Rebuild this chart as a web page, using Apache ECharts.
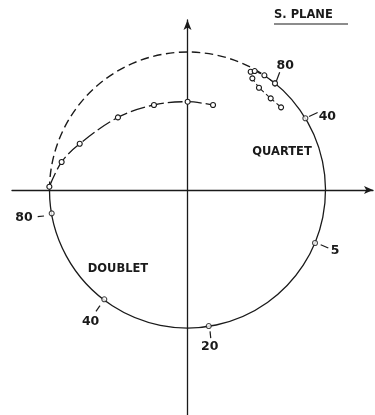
<!DOCTYPE html>
<html>
<head>
<meta charset="utf-8">
<script src="https://cdn.jsdelivr.net/npm/echarts@6/dist/echarts.min.js"></script>
<style>html,body{margin:0;padding:0;background:#fff}#c{width:375px;height:415px}</style>
</head>
<body>
<div id="c"></div>
<script>
// ---- data (unit circle radius = 1) ----
const circleCenter = [0, 0];
const circleRadius = 1;
const dashedFromDeg = 57;   // dashed part of the circle from this angle ...
const dashedToDeg = 180;    // ... to this angle (counter-clockwise)

const innerX = [-1.001, -0.912, -0.781, -0.504, -0.243, 0.001, 0.185];
const innerY = [0.024, 0.203, 0.335, 0.526, 0.616, 0.640, 0.616];

const quartetUpperX = [0.458, 0.487, 0.557, 0.634];
const quartetUpperY = [0.857, 0.862, 0.831, 0.773];

const quartetLowerX = [0.470, 0.518, 0.603, 0.678];
const quartetLowerY = [0.809, 0.741, 0.664, 0.599];

const markedX = [0.634, 0.854, 0.924, 0.154, -0.603, -0.984];
const markedY = [0.773, 0.520, -0.384, -0.986, -0.792, -0.169];
const markedLabels = ['80', '40', '5', '20', '40', '80'];

const regionLabels = ['QUARTET', 'DOUBLET'];
const regionX = [0.685, -0.504];
const regionY = [0.275, -0.572];

const titleText = 'S. PLANE';

// ---- layout / style (pixel offsets of leader lines & labels) ----
const labelLayout = [
  {lead: [1.3, -2, 4.7, -11], text: [10.3, -17.3]},
  {lead: [3.7, -1.7, 12.3, -5.7], text: [22, -1]},
  {lead: [5.7, 1.7, 13.3, 5], text: [20, 7.3]},
  {lead: [1.3, 5.3, 2, 12], text: [1, 21]},
  {lead: [-4.3, 6.3, -8.3, 12], text: [-13.7, 22]},
  {lead: [-7.7, 2.7, -14, 3.3], text: [-27.7, 4.3]}
];
const INK = '#1a1a1a';
const FONT = '"DejaVu Sans", "Liberation Sans", sans-serif';

const zip = (xs, ys) => xs.map((x, i) => [x, ys[i]]);
const hollow = {color: '#fff', borderColor: INK, borderWidth: 1.1};

const chart = echarts.init(document.getElementById('c'), null, {renderer: 'canvas'});
const deg = Math.PI / 180;

chart.setOption({
  animation: false,
  backgroundColor: '#fff',
  grid: {left: 12, right: 2, top: 20, bottom: 0},
  xAxis: {
    type: 'value', min: -1.2717, max: 1.3442,
    axisLine: {onZero: true, symbol: ['none', 'arrow'], symbolSize: [6, 9], lineStyle: {color: INK, width: 1.3}},
    axisTick: {show: false}, axisLabel: {show: false}, splitLine: {show: false}
  },
  yAxis: {
    type: 'value', min: -1.6304, max: 1.2319,
    axisLine: {onZero: true, symbol: ['none', 'arrow'], symbolSize: [6, 10], lineStyle: {color: INK, width: 1.3}},
    axisTick: {show: false}, axisLabel: {show: false}, splitLine: {show: false}
  },
  graphic: [
    {type: 'text', left: 274, top: 9, style: {text: titleText, font: 'bold 11.5px ' + FONT, fill: INK}},
    {type: 'line', shape: {x1: 274, y1: 24, x2: 348, y2: 24}, style: {stroke: INK, lineWidth: 1.2}}
  ],
  series: [
    {
      type: 'custom', name: 'circle', clip: false, silent: true,
      data: [[circleCenter[0], circleCenter[1], circleRadius]],
      renderItem: function (params, api) {
        const c = api.coord([api.value(0), api.value(1)]);
        const r = api.size([api.value(2), 0])[0];
        return {type: 'group', children: [
          {type: 'arc', shape: {cx: c[0], cy: c[1], r: r, startAngle: -dashedFromDeg * deg, endAngle: dashedToDeg * deg, clockwise: true},
           style: {stroke: INK, fill: null, lineWidth: 1.3}},
          {type: 'arc', shape: {cx: c[0], cy: c[1], r: r, startAngle: dashedToDeg * deg, endAngle: (360 - dashedFromDeg) * deg, clockwise: true},
           style: {stroke: INK, fill: null, lineWidth: 1.4, lineDash: [8.5, 4.5]}}
        ]};
      }
    },
    {
      type: 'line', name: 'inner', data: zip(innerX, innerY), smooth: 0.35,
      symbol: 'circle', symbolSize: 5, itemStyle: hollow,
      lineStyle: {color: INK, width: 1.3, type: [15, 4]}
    },
    {
      type: 'line', name: 'quartetUpper', data: zip(quartetUpperX, quartetUpperY),
      symbol: 'circle', symbolSize: 5, itemStyle: hollow,
      lineStyle: {color: INK, width: 1.1, type: [4, 3]}
    },
    {
      type: 'line', name: 'quartetLower', data: zip(quartetLowerX, quartetLowerY),
      symbol: 'circle', symbolSize: 5, itemStyle: hollow,
      lineStyle: {color: INK, width: 1.1, type: [4, 3]}
    },
    {
      type: 'scatter', name: 'marked', data: zip(markedX, markedY),
      symbol: 'circle', symbolSize: 5, itemStyle: hollow, z: 3
    },
    {
      type: 'custom', name: 'labels', clip: false, silent: true, z: 4,
      data: zip(markedX, markedY),
      renderItem: function (params, api) {
        const i = params.dataIndex;
        const p = api.coord([api.value(0), api.value(1)]);
        const L = labelLayout[i];
        return {type: 'group', children: [
          {type: 'line', shape: {x1: p[0] + L.lead[0], y1: p[1] + L.lead[1], x2: p[0] + L.lead[2], y2: p[1] + L.lead[3]},
           style: {stroke: INK, lineWidth: 1.2}},
          {type: 'text', x: p[0] + L.text[0], y: p[1] + L.text[1],
           style: {text: markedLabels[i], fill: INK, font: 'bold 12.5px ' + FONT,
                   align: 'center', verticalAlign: 'middle', textAlign: 'center', textVerticalAlign: 'middle'}}
        ]};
      }
    },
    {
      type: 'custom', name: 'regions', clip: false, silent: true, z: 4,
      data: zip(regionX, regionY),
      renderItem: function (params, api) {
        const p = api.coord([api.value(0), api.value(1)]);
        return {type: 'text', x: p[0], y: p[1],
          style: {text: regionLabels[params.dataIndex], fill: INK, font: 'bold 11.5px ' + FONT,
                  align: 'center', verticalAlign: 'middle', textAlign: 'center', textVerticalAlign: 'middle'}};
      }
    }
  ]
});
</script>
</body>
</html>
